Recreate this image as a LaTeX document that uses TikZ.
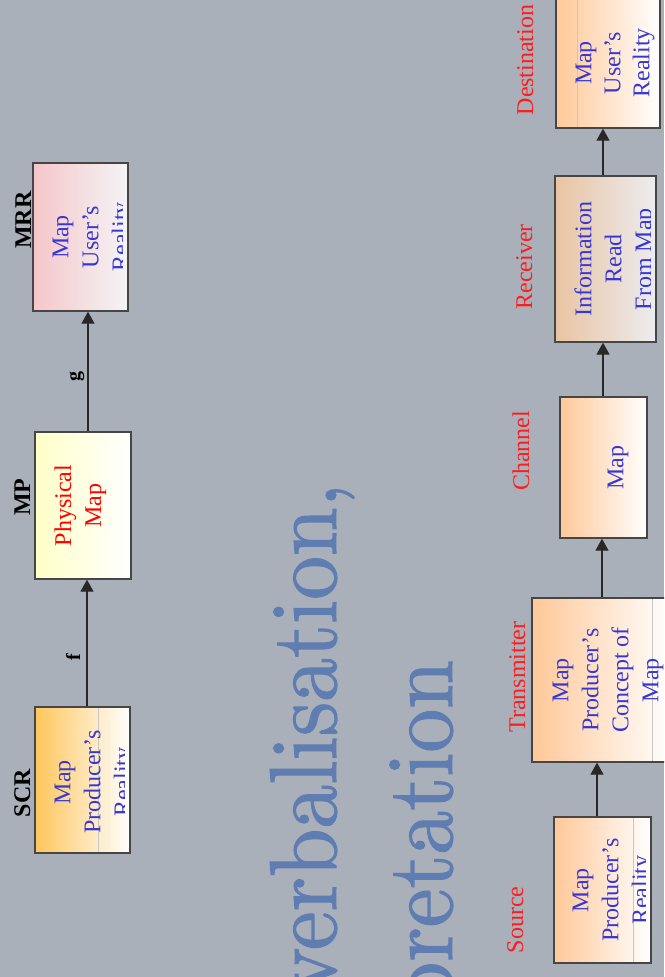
\documentclass[tikz,border=0pt]{standalone}
\usepackage{fontspec}
\newfontfamily\tnr{Liberation Serif}
\newfontfamily\bigfont[FakeBold=1.2,FakeStretch=0.92]{lmroman10-regular.otf}
\usetikzlibrary{arrows.meta,calc}
\definecolor{bg}{RGB}{170,176,186}
\definecolor{bigblue}{RGB}{96,125,177}
\definecolor{txtblue}{RGB}{55,55,210}
\definecolor{lblred}{RGB}{250,30,30}
\definecolor{boxline}{RGB}{70,70,70}
\definecolor{arrline}{RGB}{40,40,40}
\definecolor{orangeA}{RGB}{255,198,92}
\definecolor{yellowA}{RGB}{255,255,200}
\definecolor{pinkA}{RGB}{245,198,202}
\definecolor{pinkB}{RGB}{244,244,246}
\definecolor{peachA}{RGB}{255,200,152}
\definecolor{tanA}{RGB}{233,196,162}
\definecolor{tanB}{RGB}{236,236,240}
\begin{document}
\begin{tikzpicture}[x=1pt,y=-1pt,
  box/.style={draw=boxline, line width=1.3pt, inner sep=0pt},
  btext/.style={font=\tnr\fontsize{24}{30}\selectfont, text=txtblue, align=center, rotate=90, inner sep=0pt, anchor=north},
  blab/.style={font=\tnr\bfseries\fontsize{24}{28}\selectfont, text=black, rotate=90, inner sep=0pt, anchor=base},
  flab/.style={font=\tnr\bfseries\fontsize{20}{24}\selectfont, text=black, rotate=90, inner sep=0pt},
  rlab/.style={font=\tnr\fontsize{24}{28}\selectfont, text=lblred, rotate=90, inner sep=0pt, anchor=base},
  big/.style={font=\bigfont\fontsize{95}{110}\selectfont, text=bigblue, rotate=90, inner sep=0pt, anchor=base east},
  arr/.style={draw=arrline, line width=1.3pt, -{Triangle[length=12pt,width=13pt]}},
  band/.style={draw=black!22, line width=0.7pt}
]
\useasboundingbox (0,0) rectangle (664,977);
\clip (0,0) rectangle (664,977);
\fill[bg] (0,0) rectangle (664,977);

% big background words
\node[big] (w1) at (336,483) {verbalisation,};
\node[big] (w2) at (452,660) {pretation};

% top row boxes
\node[box, left color=orangeA, right color=white, minimum width=95pt, minimum height=146pt] (scr) at (82.5,780) {};
\node[box, left color=yellowA, right color=white, minimum width=96pt, minimum height=147pt] (mp) at (83,505.5) {};
\node[box, left color=pinkA, right color=pinkB, minimum width=95pt, minimum height=148pt] (mrr) at (80.5,237) {};
\draw[band] (98,708) -- (98,852);

\begin{scope}
\clip (scr.south west) rectangle ([xshift=-6pt]scr.north east);
\node[btext] (scrt) at ($(scr.west)+(20,2)$) {Map\\Producer’s\\Reality};
\end{scope}
\node[btext, text=red] (mpt) at ($(mp.west)+(20,0)$) {Physical\\Map};
\begin{scope}
\clip (mrr.south west) rectangle ([xshift=-6pt]mrr.north east);
\node[btext] (mrrt) at ($(mrr.west)+(20,0)$) {Map\\User’s\\Reality};
\end{scope}

\node[blab] (l1) at (30,793) {SCR};
\node[blab] (l2) at (30,497) {MP};
\node[blab] (l3) at (31,220) {MRR};

\draw[arr] ([xshift=4.5pt]scr.north) -- ([xshift=4pt]mp.south);
\draw[arr] ([xshift=5pt]mp.north) -- ([xshift=7.5pt]mrr.south);
\node[flab] (fl) at (73,657) {f};
\node[flab] (gl) at (77,376) {g};

% bottom row boxes
\node[box, left color=peachA, right color=white, minimum width=97pt, minimum height=146pt] (src) at (602.5,890) {};
\node[box, left color=peachA, right color=white, minimum width=140pt, minimum height=164pt] (trn) at (602,680) {};
\node[box, left color=peachA, right color=white, minimum width=87pt, minimum height=141pt] (chn) at (603.5,467.5) {};
\node[box, left color=tanA, right color=tanB, minimum width=101pt, minimum height=166pt] (rcv) at (605.5,259) {};
\node[box, left color=peachA, right color=white, minimum width=104pt, minimum height=130pt] (dst) at (608,63) {};
\draw[band] (633,818) -- (633,962);
\draw[band] (652,599) -- (652,761);
\draw[band] (577,-1) -- (577,127);

\begin{scope}
\clip (src.south west) rectangle ([xshift=-6pt]src.north east);
\node[btext] (srct) at ($(src.west)+(19,0)$) {Map\\Producer’s\\Reality};
\end{scope}
\node[btext] (trnt) at ($(trn.west)+(21,0)$) {Map\\Producer’s\\Concept of\\Map};
\node[btext] (chnt) at ($(chn.west)+(48,0)$) {Map};
\begin{scope}
\clip (rcv.south west) rectangle ([xshift=-6pt]rcv.north east);
\node[btext] (rcvt) at ($(rcv.west)+(20,0)$) {Information\\Read\\From Map};
\end{scope}
\node[btext, font=\tnr\fontsize{24}{29}\selectfont] (dstt) at ($(dst.west)+(20,0)$) {Map\\User’s\\Reality};

\node[rlab] (r1) at (523,920) {Source};
\node[rlab] (r2) at (525,677) {Transmitter};
\node[rlab] (r3) at (529,451) {Channel};
\node[rlab] (r4) at (532,267) {Receiver};
\node[rlab] (r5) at (533,60) {Destination};

\draw[arr] ([xshift=-5.5pt]src.north) -- ([xshift=-5pt]trn.south);
\draw[arr] ([xshift=0pt]trn.north) -- ([xshift=-1.5pt]chn.south);
\draw[arr] ([xshift=-0.5pt]chn.north) -- ([xshift=-2.5pt]rcv.south);
\draw[arr] ([xshift=-2.5pt]rcv.north) -- ([xshift=-5pt]dst.south);
\end{tikzpicture}
\end{document}
